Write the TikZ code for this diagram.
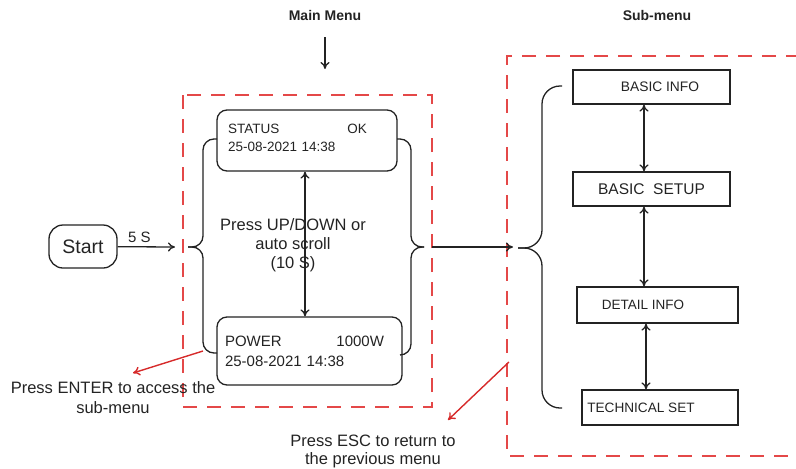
\documentclass[tikz,border=0pt]{standalone}
\usepackage{fontspec}
\setmainfont{Liberation Sans}
\usetikzlibrary{arrows.meta}
\pgfdeclarelayer{edgelayer}
\pgfdeclarelayer{nodelayer}
\pgfsetlayers{edgelayer,nodelayer,main}
\definecolor{ink}{RGB}{35,35,35}
\definecolor{dashred}{RGB}{228,72,72}
\definecolor{arrred}{RGB}{214,42,42}
\newcommand{\setfs}[2]{\fontsize{#1}{#2}\selectfont}
\tikzset{font=\setfs{16.5}{19}, text=ink}
\tikzstyle{none}=[inner sep=0pt]
\tikzstyle{lcd}=[draw=ink, line width=1.3pt, rounded corners=10pt, align=left, inner ysep=0pt]
\tikzstyle{menu}=[draw=ink, line width=1.2pt, minimum height=34pt, inner sep=0pt]
\tikzstyle{flow}=[draw=ink, line width=1.3pt, -{To[length=7pt,width=9pt]}]
\tikzstyle{dbl}=[draw=ink, line width=1.3pt, {To[length=7pt,width=9pt]}-{To[length=7pt,width=9pt]}]
\tikzstyle{brace}=[draw=ink, line width=1.3pt, rounded corners=11pt]
\tikzstyle{frame}=[draw=dashred, line width=1.3pt, dash pattern=on 14pt off 10pt]
\tikzstyle{hint}=[draw=arrred, line width=1.4pt, -{To[length=7pt,width=9pt]}]

\begin{document}
\begin{tikzpicture}[x=1pt, y=-1pt]
	\useasboundingbox (0, 0) rectangle (796, 469);
	\begin{pgfonlayer}{nodelayer}
		% headings
		\node [style=none, font=\bfseries\setfs{14}{16}] (mainlbl) at (325, 15) {Main Menu};
		\node [style=none, font=\bfseries\setfs{14}{16}] (sublbl) at (657, 15) {Sub-menu};
		\coordinate (maintop) at (325, 37);
		\coordinate (mainbot) at (325, 69);
		% main menu
		\node [draw=ink, line width=1.3pt, rounded corners=14pt, minimum width=68pt, minimum height=43pt, inner sep=0pt, font=\setfs{19.5}{22}] (start) at (83, 246.5) {Start};
		\node [style=lcd, minimum width=180pt, minimum height=61pt, inner xsep=11pt, text width=158pt, font=\setfs{13.5}{18}] (status) at (307, 140.5) {\makebox[139pt][l]{STATUS\hfill OK}\\25-08-2021 14:38\\[-12pt]\mbox{}};
		\node [style=lcd, minimum width=185pt, minimum height=68pt, inner xsep=8pt, text width=169pt, font=\setfs{15}{20}] (power) at (309.5, 351) {\makebox[159pt][l]{POWER\hfill 1000W}\\25-08-2021 14:38};
		\node [style=none, align=center] (scroll) at (293, 245) {Press UP/DOWN or\\auto scroll\\(10 S)};
		\coordinate (mainin) at (175, 247);
		\coordinate (mainout) at (432, 247);
		\coordinate (subin) at (513, 247);
		% sub-menu
		\node [style=menu, minimum width=157pt, font=\setfs{13.8}{16}] (basicinfo) at (651.5, 87) {\hspace*{17pt}BASIC INFO};
		\node [style=menu, minimum width=157pt, font=\setfs{15.5}{18}] (basicsetup) at (651.5, 189) {BASIC\ \ SETUP};
		\node [style=menu, minimum width=161pt, minimum height=36pt, font=\setfs{13.5}{16}] (detailinfo) at (657.5, 305) {DETAIL INFO\hspace*{29pt}};
		\node [style=menu, minimum width=156pt, minimum height=35pt, font=\setfs{13.6}{16}] (techset) at (660, 407.5) {TECHNICAL SET\hspace*{38pt}};
		% hints
		\node [style=none, align=center, font=\setfs{16.5}{20}] (enterlbl) at (113, 398) {Press ENTER to access the\\sub-menu};
		\node [style=none, align=center, font=\setfs{16.5}{17.5}] (esclbl) at (373, 451.5) {Press ESC to return to\\the previous menu};
		\coordinate (enterfrom) at (203, 351);
		\coordinate (enterto) at (133, 373);
		\coordinate (escfrom) at (509, 362);
		\coordinate (escto) at (448, 420);
	\end{pgfonlayer}
	\begin{pgfonlayer}{edgelayer}
		\draw [style=frame] (183, 95) rectangle (432, 407);
		\draw [style=frame] (800, 56) -- (507, 56) -- (507, 456) -- (800, 456);
		\draw [style=flow] (maintop) to (mainbot);
		\draw [style=flow] (start) to node [above, pos=0.38, font=\setfs{15}{17}] {5 S} (mainin);
		\draw [style=dbl] ([xshift=-2pt]status.south) to ([xshift=-2pt]status.south |- power.north);
		% braces
		\draw [style=brace] (217, 139) -- (203, 139) -- (203, 247) -- (188, 247);
		\draw [style=brace] (188, 247) -- (203, 247) -- (203, 353) -- (217, 353);
		\draw [style=brace] (397, 139) -- (411, 139) -- (411, 247) -- (424, 247);
		\draw [style=brace] (424, 247) -- (411, 247) -- (411, 355) -- (400, 355);
		\draw [style=brace, rounded corners=18pt] (562, 86) -- (542, 86) -- (542, 248) -- (518, 248);
		\draw [style=brace, rounded corners=18pt] (518, 248) -- (542, 248) -- (542, 408) -- (562, 408);
		\draw [style=flow] (mainout) to (subin);
		\draw [style=dbl] ([xshift=-7.5pt]basicinfo.south) to ([xshift=-7.5pt]basicinfo.south |- basicsetup.north);
		\draw [style=dbl] ([xshift=-7.5pt]basicsetup.south) to ([xshift=-7.5pt]basicsetup.south |- detailinfo.north);
		\draw [style=dbl] ([xshift=-11.5pt]detailinfo.south) to ([xshift=-11.5pt]detailinfo.south |- techset.north);
		\draw [style=hint] (enterfrom) to (enterto);
		\draw [style=hint] (escfrom) to (escto);
	\end{pgfonlayer}
\end{tikzpicture}
\end{document}
